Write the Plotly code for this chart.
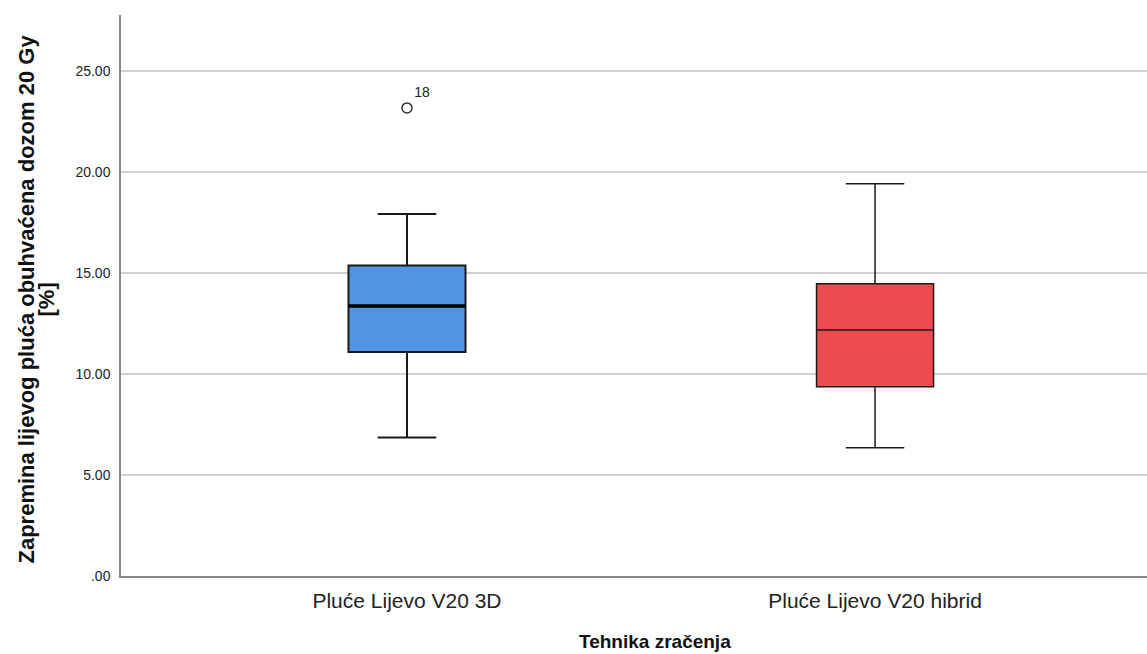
import plotly.graph_objects as go

categories = ["Pluće Lijevo V20 3D", "Pluće Lijevo V20 hibrid"]
lower_whisker = [6.85, 6.35]
q1_vals = [11.09, 9.37]
median_vals = [13.37, 12.18]
q3_vals = [15.37, 14.47]
upper_whisker = [17.92, 19.42]
fill_colors = ["#5294E2", "#EE4B4F"]
line_widths = [2, 1.5]

outlier_cat = [0]
outlier_vals = [23.17]
outlier_labels = ["18"]

y_tickvals = [0, 5, 10, 15, 20, 25]
y_ticktext = [".00", "5.00", "10.00", "15.00", "20.00", "25.00"]

y_title_lines = ["Zapremina lijevog pluća obuhvaćena dozom 20 Gy", "[%]"]
x_title = "Tehnika zračenja"

box_w = 0.25

fig = go.Figure()
for i, cat in enumerate(categories):
    fig.add_trace(go.Box(
        x=[i], q1=[q1_vals[i]], median=[median_vals[i]], q3=[q3_vals[i]],
        lowerfence=[lower_whisker[i]], upperfence=[upper_whisker[i]],
        width=box_w, whiskerwidth=0.5,
        fillcolor=fill_colors[i],
        line=dict(color="#1a1a1a", width=line_widths[i]),
        boxpoints=False, showlegend=False, hoverinfo="skip", name=cat,
    ))

# thicker median line for first box
fig.add_trace(go.Scatter(
    x=[0 - box_w / 2, 0 + box_w / 2], y=[median_vals[0], median_vals[0]],
    mode="lines", line=dict(color="black", width=3.5),
    showlegend=False, hoverinfo="skip",
))

fig.add_trace(go.Scatter(
    x=outlier_cat, y=outlier_vals, mode="markers+text",
    marker=dict(symbol="circle-open", size=10, color="#333333", line=dict(width=1.5)),
    text=outlier_labels, textposition="top right",
    textfont=dict(family="Liberation Sans, Arial", size=14, color="#222222"),
    showlegend=False, hoverinfo="skip",
))

for k, line in enumerate(y_title_lines):
    fig.add_annotation(
        text="<b>%s</b>" % line, xref="paper", yref="paper", x=0, y=0.5,
        xanchor="center", yanchor="middle", textangle=-90,
        xshift=-95 + 20 * k, yshift=-4, showarrow=False,
        font=dict(family="Liberation Sans, Arial", size=22, color="#111111"),
    )

fig.add_annotation(
    text="<b>%s</b>" % x_title, xref="paper", yref="paper", x=0.5, y=0,
    xanchor="center", yanchor="middle", xshift=21, yshift=-65, showarrow=False,
    font=dict(family="Liberation Sans, Arial", size=19, color="#111111"),
)

fig.update_layout(
    width=1147, height=654,
    margin=dict(l=121, r=0, t=15, b=78, autoexpand=False),
    paper_bgcolor="white", plot_bgcolor="white",
    font=dict(family="Liberation Sans, Arial", color="#222222"),
    xaxis=dict(
        range=[-0.611, 1.581], tickvals=[0, 1], ticktext=categories,
        tickfont=dict(size=21, color="#222222"),
        showgrid=False, zeroline=False,
        showline=True, linecolor="#888888", linewidth=1.5,
        ticks="outside", ticklen=5, tickcolor="rgba(0,0,0,0)",
        automargin=False,
    ),
    yaxis=dict(
        range=[0, 27.77], tickvals=y_tickvals, ticktext=y_ticktext,
        tickfont=dict(size=14, color="#222222"),
        showgrid=True, gridcolor="#d0d0d0", gridwidth=1.5,
        zeroline=False, showline=True, linecolor="#888888", linewidth=1.5,
        ticks="outside", ticklen=6, tickcolor="rgba(0,0,0,0)",
        automargin=False,
    ),
)

fig.write_html("out.html", config={"displayModeBar": False},
               post_script="document.body.style.margin='0';document.body.style.overflow='hidden';")
